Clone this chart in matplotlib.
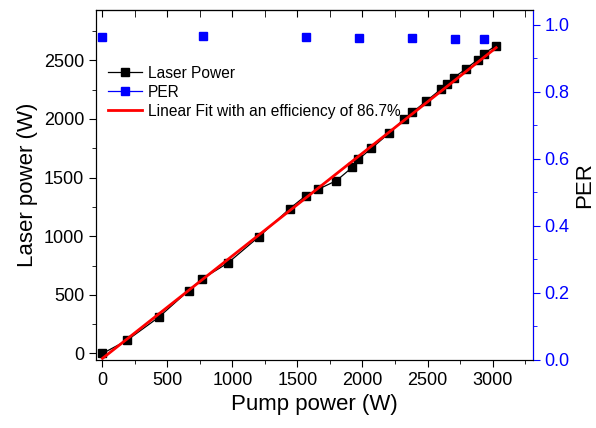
import matplotlib
matplotlib.use('Agg')
import matplotlib.pyplot as plt
import numpy as np
from matplotlib.lines import Line2D
from matplotlib.ticker import MultipleLocator, FormatStrFormatter

plt.rcParams['font.family'] = ['Liberation Sans', 'DejaVu Sans']

# data
pump = [0, 190, 433, 662, 769, 964, 1205, 1441, 1562, 1659, 1800, 1921, 1969,
        2069, 2202, 2318, 2382, 2490, 2600, 2651, 2705, 2797, 2887, 2933, 3028]
laser = [0, 113, 309, 536, 638, 771, 997, 1236, 1344, 1400, 1474, 1587, 1655,
         1749, 1876, 1998, 2055, 2151, 2251, 2302, 2353, 2429, 2506, 2557, 2625]
per_pump = [0, 771, 1562, 1972, 2380, 2708, 2933]
per = [0.965, 0.967, 0.964, 0.960, 0.962, 0.958, 0.958]
# fitted line as drawn in the picture
fit_slope = 0.875
fit_icpt = -42

fig = plt.figure(figsize=(5.96, 4.28), dpi=100)
ax = fig.add_axes([0.161, 0.159, 0.733, 0.818])

xf = np.array([pump[0], pump[-1]])
ax.plot(pump, laser, '-s', color='black', lw=0.9, markersize=6, zorder=3)
ax.plot(xf, fit_slope * xf + fit_icpt, '-', color='red', lw=2, zorder=4)

ax.set_xlim(-50, 3310)
ax.set_ylim(-55, 2930)
ax.xaxis.set_major_locator(MultipleLocator(500))
ax.xaxis.set_minor_locator(MultipleLocator(250))
ax.yaxis.set_major_locator(MultipleLocator(500))
ax.yaxis.set_minor_locator(MultipleLocator(250))
ax.tick_params(which='both', direction='out', labelsize=13)
ax.tick_params(which='major', length=5)
ax.tick_params(which='minor', length=3)
ax.set_xlabel('Pump power (W)', fontsize=16)
ax.set_ylabel('Laser power (W)', fontsize=16)

top = ax.secondary_xaxis('top')
top.xaxis.set_major_locator(MultipleLocator(500))
top.xaxis.set_minor_locator(MultipleLocator(250))
top.tick_params(which='both', direction='in', length=5, labeltop=False)

ax2 = ax.twinx()
ax2.plot(per_pump, per, 's', color='blue', markersize=6, linestyle='None')
ax2.set_ylim(0, 1.045)
ax2.yaxis.set_major_locator(MultipleLocator(0.2))
ax2.yaxis.set_minor_locator(MultipleLocator(0.1))
ax2.yaxis.set_major_formatter(FormatStrFormatter('%.1f'))
ax2.tick_params(which='both', direction='out', colors='blue', labelsize=13)
ax2.tick_params(which='major', length=5)
ax2.tick_params(which='minor', length=3)
ax2.spines['right'].set_color('blue')
ax2.set_ylabel('PER', fontsize=16, color='black', labelpad=3)

handles = [Line2D([], [], color='black', lw=0.9, marker='s', markersize=6),
           Line2D([], [], color='blue', lw=0.9, marker='s', markersize=6),
           Line2D([], [], color='red', lw=2)]
labels = ['Laser Power', 'PER', 'Linear Fit with an efficiency of 86.7%']
ax.legend(handles, labels, loc='upper left', bbox_to_anchor=(-0.005, 0.88),
          frameon=False, fontsize=11.2, handlelength=2.2, labelspacing=0.25,
          handletextpad=0.4)

fig.savefig('out.png', dpi=100)
